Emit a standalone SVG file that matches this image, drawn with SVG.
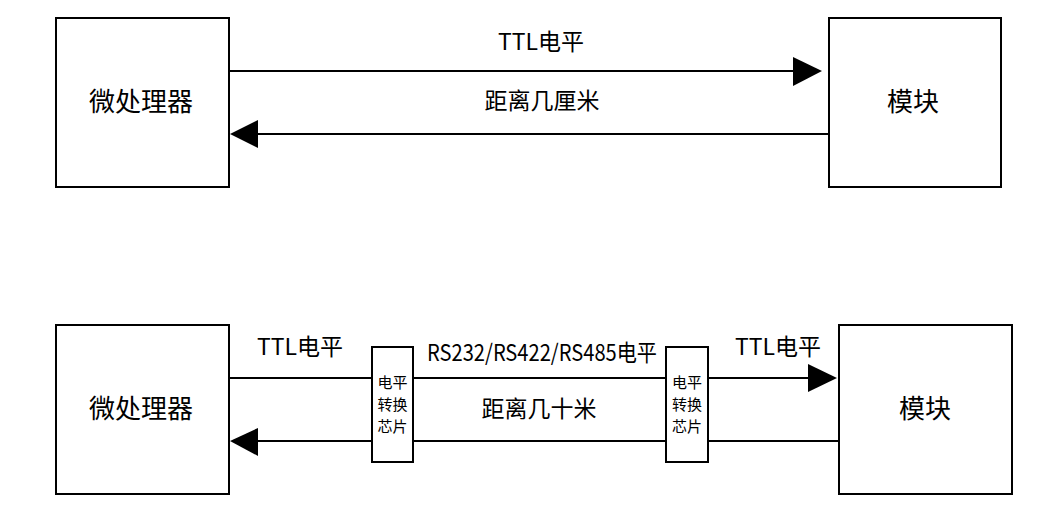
<svg xmlns="http://www.w3.org/2000/svg" width="1062" height="519" viewBox="0 0 1062 519">
<style>
.box{fill:#fff;stroke:#000;stroke-width:2}
.ln{stroke:#000;stroke-width:2;fill:none}
.ah{fill:#000}
text{font-family:"Noto Sans CJK SC","DejaVu Sans",sans-serif;fill:#000;text-anchor:middle}
.big{font-size:26px}
.mid{font-size:23px}
.sm{font-size:15px}
</style>
<rect width="1062" height="519" fill="#fff"/>
<g id="connectors">
<line class="ln" x1="229" y1="71" x2="795" y2="71"/>
<polygon class="ah" points="822,71 793,57 793,86"/>
<line class="ln" x1="256" y1="134" x2="829" y2="134"/>
<polygon class="ah" points="230,134 258,120 258,148"/>
<line class="ln" x1="229" y1="378" x2="372" y2="378"/>
<line class="ln" x1="413" y1="378" x2="666" y2="378"/>
<line class="ln" x1="708" y1="378" x2="810" y2="378"/>
<polygon class="ah" points="837,378 808,364 808,392"/>
<line class="ln" x1="256" y1="441" x2="372" y2="441"/>
<polygon class="ah" points="230,441 258,428 258,456"/>
<line class="ln" x1="413" y1="441" x2="666" y2="441"/>
<line class="ln" x1="708" y1="441" x2="839" y2="441"/>
</g>
<g id="labels">
<text class="mid" x="541" y="50">TTL电平</text>
<text class="mid" x="542" y="109">距离几厘米</text>
<text class="mid" x="300" y="355">TTL电平</text>
<text class="mid" x="778" y="355">TTL电平</text>
<text class="mid" x="542" y="361" textLength="230" lengthAdjust="spacingAndGlyphs">RS232/RS422/RS485电平</text>
<text class="mid" x="539" y="417">距离几十米</text>
</g>
<g id="mcu1"><rect class="box" x="56" y="18" width="173" height="169"/><text class="big" x="141" y="111">微处理器</text></g>
<g id="mod1"><rect class="box" x="829" y="18" width="172" height="169"/><text class="big" x="913" y="111">模块</text></g>
<g id="mcu2"><rect class="box" x="56" y="325" width="173" height="169"/><text class="big" x="141" y="418">微处理器</text></g>
<g id="mod2"><rect class="box" x="839" y="325" width="173" height="169"/><text class="big" x="925" y="418">模块</text></g>
<g id="chip1"><rect class="box" x="372" y="347" width="41" height="115"/>
<text class="sm"><tspan x="392.5" y="388">电平</tspan><tspan x="392.5" y="410">转换</tspan><tspan x="392.5" y="432">芯片</tspan></text></g>
<g id="chip2"><rect class="box" x="666" y="347" width="42" height="115"/>
<text class="sm"><tspan x="687" y="388">电平</tspan><tspan x="687" y="410">转换</tspan><tspan x="687" y="432">芯片</tspan></text></g>
</svg>
